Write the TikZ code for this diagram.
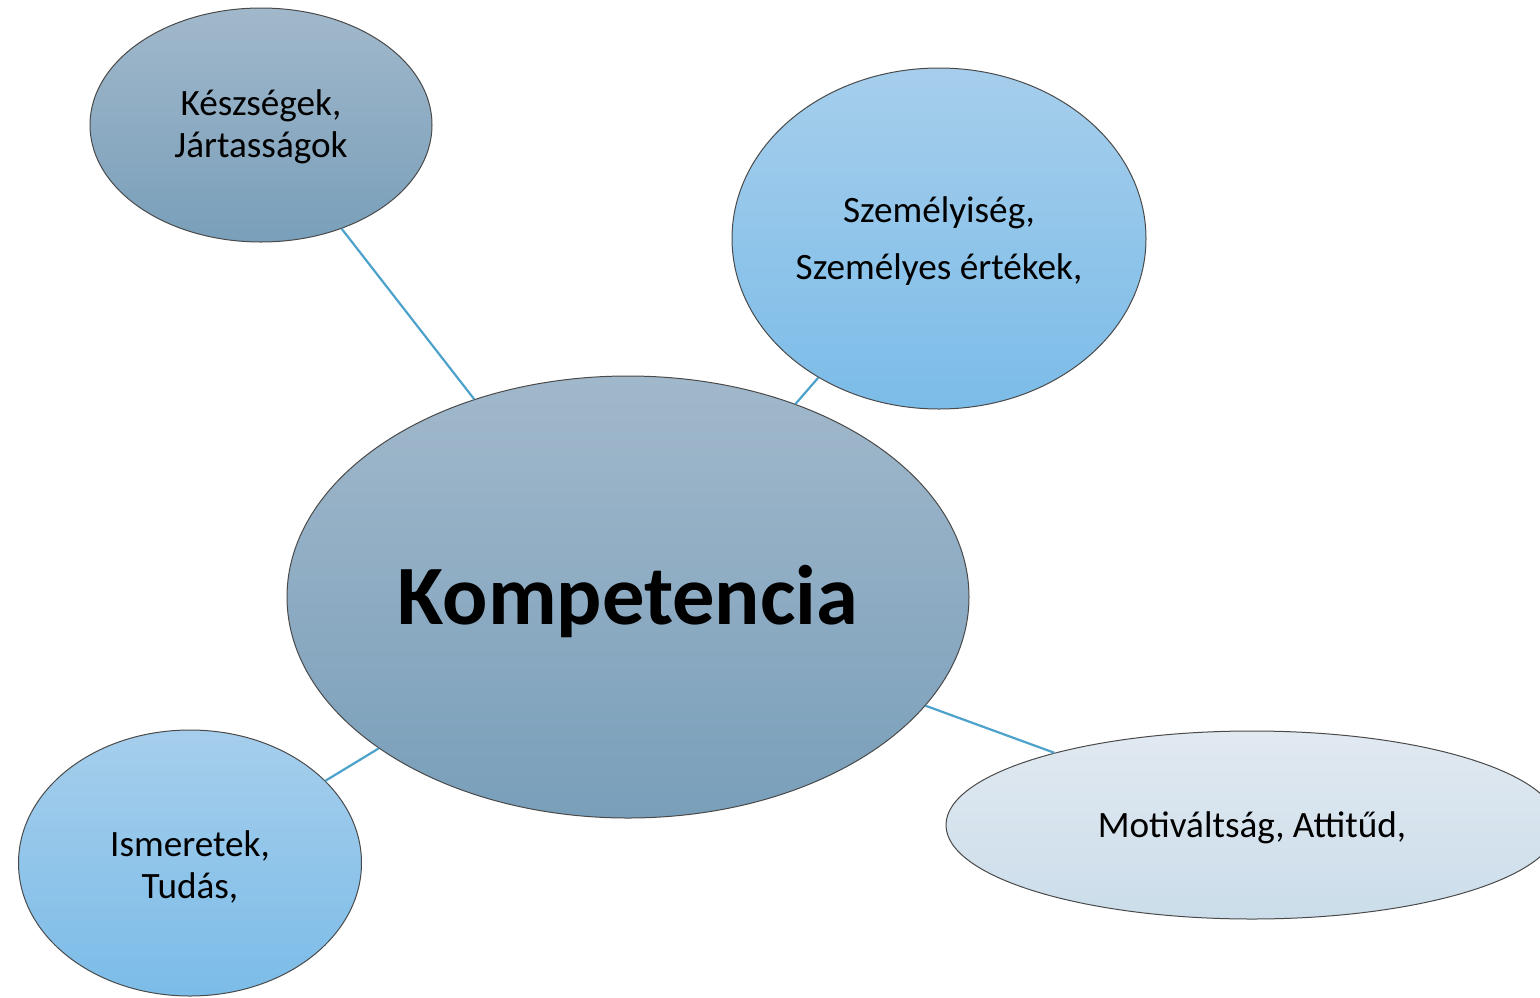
\documentclass[tikz,border=0pt]{standalone}
\usepackage{fontspec}
\setmainfont{Carlito}
\usetikzlibrary{shapes.geometric}
\definecolor{grayTop}{HTML}{A1B8CB}
\definecolor{grayBot}{HTML}{799FBA}
\definecolor{blueTop}{HTML}{A6CEEC}
\definecolor{blueBot}{HTML}{7BBCE8}
\definecolor{paleTop}{HTML}{E1E9F1}
\definecolor{paleBot}{HTML}{CBDDEA}
\definecolor{linkcol}{HTML}{4DA2CB}
\definecolor{rimcol}{HTML}{4A4A4A}
\tikzset{
  bub/.style={ellipse, draw=rimcol, line width=1pt, inner sep=0pt},
  graybub/.style={bub, top color=grayTop, bottom color=grayBot},
  bluebub/.style={bub, top color=blueTop, bottom color=blueBot},
  palebub/.style={bub, top color=paleTop, bottom color=paleBot},
  txt/.style={align=center, inner sep=0pt, font=\fontsize{37.2}{42}\selectfont, text=black},
  link/.style={draw=linkcol, line width=2.2pt}
}
\begin{document}
\begin{tikzpicture}[x=1pt,y=-1pt]
\useasboundingbox (0,0) rectangle (1540,997);
\clip (0,0) rectangle (1540,997);
\fill[white] (0,0) rectangle (1540,997);
\node[graybub, minimum width=342pt, minimum height=234pt] (kesz) at (261,125) {};
\node[bluebub, minimum width=414pt, minimum height=341pt] (szem) at (939,238.5) {};
\node[graybub, minimum width=682pt, minimum height=442pt] (komp) at (628,597) {};
\node[bluebub, minimum width=343pt, minimum height=266pt] (isme) at (190,863) {};
\node[palebub, minimum width=612pt, minimum height=188pt] (moti) at (1252,825) {};
\draw[link] (kesz) -- (komp);
\draw[link] (szem) -- (komp);
\draw[link] (komp) -- (moti);
\draw[link] (komp) -- (isme);
\node[txt] (keszT) at ([yshift=-2pt]kesz.center) {Készségek,\\Jártasságok};
\node[txt] (szemT) at ([yshift=-3pt]szem.center) {Személyiség,\\[15pt]Személyes értékek,};
\node[txt, font=\fontsize{84.5}{100}\bfseries\selectfont] (kompT) at ([yshift=-4pt]komp.center) {Kompetencia};
\node[txt] (ismeT) at ([yshift=-3.5pt]isme.center) {Ismeretek,\\Tudás,};
\node[txt] (motiT) at ([yshift=-3pt]moti.center) {Motiváltság, Attitűd,};
\end{tikzpicture}
\end{document}
